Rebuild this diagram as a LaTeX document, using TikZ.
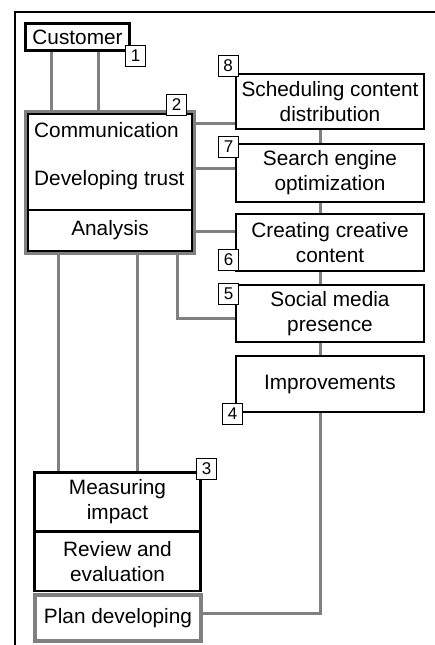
\documentclass[tikz,border=0pt]{standalone}
\usepackage{fontspec}
\setmainfont{Liberation Sans}
\definecolor{linegray}{RGB}{128,128,128}
\begin{document}
\begin{tikzpicture}[x=1pt, y=-1pt,
  every node/.style={align=center, inner sep=0pt, font=\fontsize{20.8}{25}\selectfont},
  blackbox/.style={draw=black, line width=1.5pt, fill=white},
  graybox/.style={draw=linegray, line width=3pt, fill=white},
  tag/.style={draw=black, line width=0.8pt, fill=white, minimum width=20, minimum height=21, font=\fontsize{17}{17}\selectfont},
  conn/.style={draw=linegray, line width=3pt}]
  \useasboundingbox (0,0) rectangle (435,645);
  \draw[line width=2.5pt] (15,645) -- (15,12) -- (435,12);
  \node[blackbox, line width=3pt, minimum width=104, minimum height=27] (cust) at (77.5,37) {Customer};
  \node[graybox, minimum width=169, minimum height=142] (grp2) at (110,182.5) {};
  \node[blackbox, minimum width=164, minimum height=96] (comm) at (110,162) {};
  \node[anchor=west, align=left] (commtxt) at (34,156) {Communication\\[23pt]Developing trust};
  \node[blackbox, minimum width=164, minimum height=41] (anal) at (110,230.5) {Analysis};
  \node[blackbox, minimum width=188, minimum height=55] (sched) at (330,101.5) {Scheduling content\\distribution};
  \node[blackbox, minimum width=188, minimum height=58] (seo) at (330,173) {Search engine\\optimization};
  \node[blackbox, minimum width=188, minimum height=57] (creat) at (330,242.5) {Creating creative\\content};
  \node[blackbox, minimum width=188, minimum height=57] (social) at (330,313.5) {Social media\\presence};
  \node[blackbox, minimum width=188, minimum height=56] (impr) at (330,384) {Improvements};
  \node[blackbox, line width=2.5pt, minimum width=166, minimum height=59] (meas) at (117.5,502) {Measuring\\impact};
  \node[blackbox, line width=2.5pt, minimum width=166, minimum height=59] (rev) at (117.5,561.5) {Review and\\evaluation};
  \node[graybox, line width=4pt, minimum width=166, minimum height=46] (plan) at (118,618) {Plan developing};
  \coordinate (ca) at (51,0);
  \coordinate (cb) at (98,0);
  \coordinate (r8) at (0,123);
  \coordinate (r7) at (0,168);
  \coordinate (r6) at (0,231);
  \coordinate (a5) at (177,318);
  \coordinate (m1) at (58,0);
  \coordinate (m2) at (137,0);
  \coordinate (ch) at (320,0);
  \coordinate (p4) at (320,613);
  \draw[conn] (cust.south -| ca) -- (grp2.north -| ca);
  \draw[conn] (cust.south -| cb) -- (grp2.north -| cb);
  \draw[conn] (grp2.east |- r8) -- (sched.west |- r8);
  \draw[conn] (grp2.east |- r7) -- (seo.west |- r7);
  \draw[conn] (grp2.east |- r6) -- (creat.west |- r6);
  \draw[conn] (grp2.south -| a5) |- (social.west |- a5);
  \draw[conn] (grp2.south -| m1) -- (meas.north -| m1);
  \draw[conn] (grp2.south -| m2) -- (meas.north -| m2);
  \draw[conn] (sched.south -| ch) -- (seo.north -| ch);
  \draw[conn] (seo.south -| ch) -- (creat.north -| ch);
  \draw[conn] (creat.south -| ch) -- (social.north -| ch);
  \draw[conn] (social.south -| ch) -- (impr.north -| ch);
  \draw[conn] (impr.south -| p4) |- (plan.east |- p4);
  \node[tag] (t1) at (135.5,55.5) {1};
  \node[tag] (t2) at (176.5,104.5) {2};
  \node[tag] (t3) at (206.5,468.5) {3};
  \node[tag] (t4) at (232.5,413.5) {4};
  \node[tag] (t5) at (228.5,294) {5};
  \node[tag] (t6) at (228.5,260) {6};
  \node[tag] (t7) at (228.5,147) {7};
  \node[tag] (t8) at (228,66) {8};
\end{tikzpicture}
\end{document}
